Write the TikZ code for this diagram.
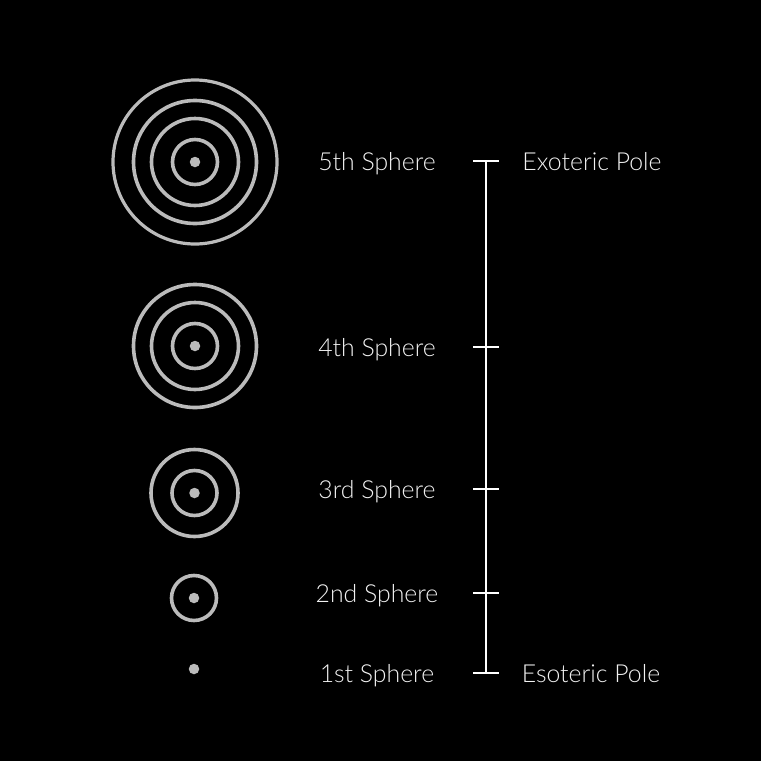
\documentclass[tikz,border=0pt]{standalone}
\usepackage{fontspec}
\setmainfont{Lato Light}
\usetikzlibrary{positioning}
\definecolor{ringgray}{HTML}{BBBBBB}
\definecolor{labelwhite}{HTML}{F2F2F2}

\begin{document}
\begin{tikzpicture}[x=1pt,y=-1pt,
ring/.style={draw=ringgray,line width=3.6pt},
core/.style={circle,fill=ringgray,inner sep=0pt,minimum size=10.5pt},
spherelabel/.style={text=labelwhite,font=\fontsize{24.8}{29}\selectfont,anchor=base},
poletick/.style={draw=white,line width=2pt}]
\fill[black] (0,0) rectangle (761,761);
\useasboundingbox (0,0) rectangle (761,761);
% spheres
\node[core] (S5) at (195,162) {};
\node[core] (S4) at (195,346) {};
\node[core] (S3) at (194.5,493) {};
\node[core] (S2) at (194,598) {};
\node[core] (S1) at (194,669) {};
\foreach \r in {22.5,43.5,61.5} \draw[ring] (S5.center) circle[radius=\r];
\draw[ring,line width=3.2pt] (S5.center) circle[radius=82];
\foreach \r in {22.5,43.5,61.5} \draw[ring] (S4.center) circle[radius=\r];
\foreach \r in {22.5,43.5} \draw[ring] (S3.center) circle[radius=\r];
\draw[ring] (S2.center) circle[radius=22.5];
% labels
\node[spherelabel] (L5) at (377,170.5) {5th Sphere};
\node[spherelabel] (L4) at (377,356.5) {4th Sphere};
\node[spherelabel] (L3) at (377,498.5) {3rd Sphere};
\node[spherelabel] (L2) at (377,602.5) {2nd Sphere};
\node[spherelabel] (L1) at (377,682.5) {1st Sphere};
\node[spherelabel] (P5) at (592,170.5) {Exoteric Pole};
\node[spherelabel] (P1) at (591,682.5) {Esoteric Pole};
% scale
\coordinate (T5) at (486,161);
\coordinate (T4) at (486,347);
\coordinate (T3) at (486,489);
\coordinate (T2) at (486,593);
\coordinate (T1) at (486,673);
\draw[poletick] (T5)--(T1);
\foreach \t in {T1,T2,T3,T4,T5}
  \draw[poletick] ([xshift=-13pt]\t) -- ([xshift=13pt]\t);
\end{tikzpicture}
\end{document}
